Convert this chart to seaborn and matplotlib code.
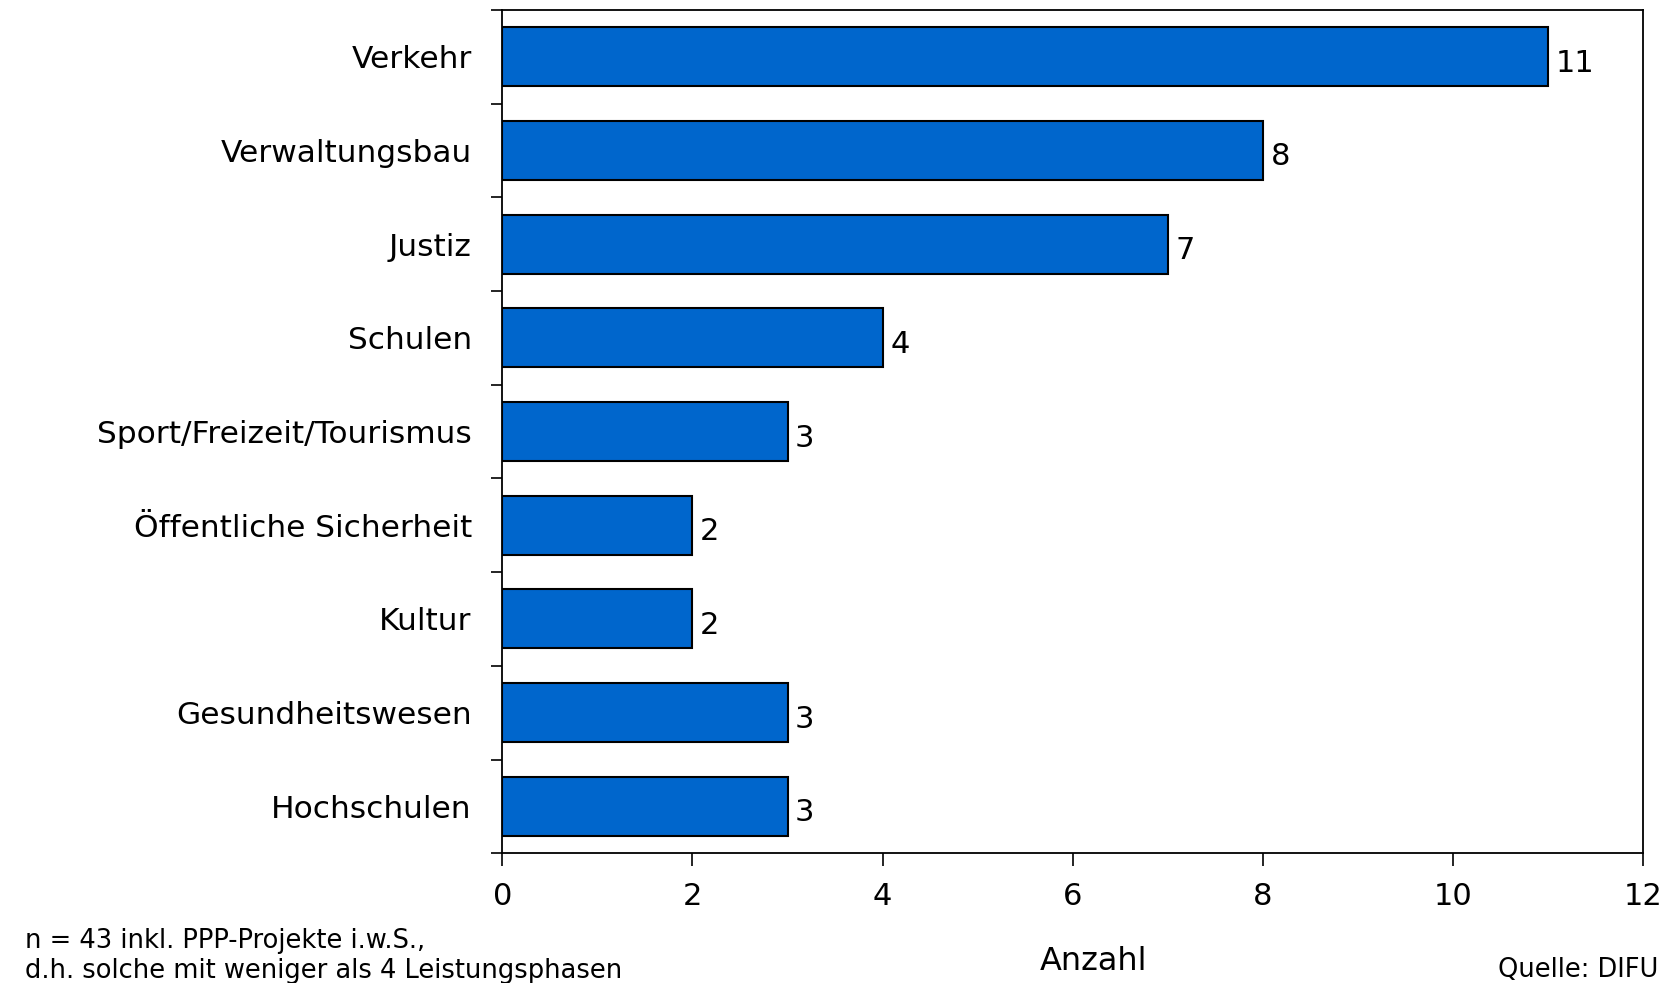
import matplotlib
matplotlib.use("Agg")
import matplotlib.pyplot as plt
import seaborn as sns
import pandas as pd
import numpy as np

categories = ["Verkehr", "Verwaltungsbau", "Justiz", "Schulen",
              "Sport/Freizeit/Tourismus", "Öffentliche Sicherheit", "Kultur",
              "Gesundheitswesen", "Hochschulen"]
values = [11, 8, 7, 4, 3, 2, 2, 3, 3]
x_ticks = [0, 2, 4, 6, 8, 10, 12]

sns.set_theme(style="white")
plt.rcParams['font.family'] = ['DejaVu Sans']
plt.rcParams['text.color'] = 'black'
plt.rcParams['xtick.color'] = 'black'
plt.rcParams['ytick.color'] = 'black'

df = pd.DataFrame({"Kategorie": categories, "Anzahl": values})

fig = plt.figure(figsize=(16.8, 9.83), dpi=100)
ax = fig.add_axes([0.299, 0.132, 0.679, 0.858])

sns.barplot(data=df, x="Anzahl", y="Kategorie", orient="h", color="#0066CC",
            saturation=1, width=0.63, edgecolor="black", linewidth=1.5, ax=ax)

ax.set_xlim(0, 12)
ax.set_ylim(len(categories) - 0.5, -0.5)
ax.set_xticks(x_ticks)
ax.set_xticklabels([str(t) for t in x_ticks], fontsize=22)
ax.tick_params(axis="x", which="major", bottom=True, direction="out", length=9,
               width=1.2, color="black", pad=12)
ax.tick_params(axis="y", which="major", left=True, length=0, pad=22, labelsize=22.5)
ax.set_yticks(np.arange(-0.5, len(categories), 1.0), minor=True)
ax.tick_params(axis="y", which="minor", left=True, direction="out", length=8,
               width=1.2, color="black")
ax.set_xlabel("")
ax.set_ylabel("")
for lbl in ax.get_yticklabels():
    lbl.set_va("center_baseline")
for s in ax.spines.values():
    s.set_color("black")
    s.set_linewidth(1.3)

for i, v in enumerate(values):
    ax.text(v + 0.08, i + 0.07, str(v), va="center", ha="left", fontsize=22)

fig.text(0.651, 0.022, "Anzahl", ha="center", va="center", fontsize=23)
fig.text(0.015, 0.043, "n = 43 inkl. PPP-Projekte i.w.S.,", ha="left", va="center", fontsize=18.5)
fig.text(0.015, 0.012, "d.h. solche mit weniger als 4 Leistungsphasen", ha="left", va="center", fontsize=18.5)
fig.text(0.987, 0.0, "Quelle: DIFU", ha="right", va="bottom", fontsize=18.5)

fig.savefig("out.png", dpi=100)
